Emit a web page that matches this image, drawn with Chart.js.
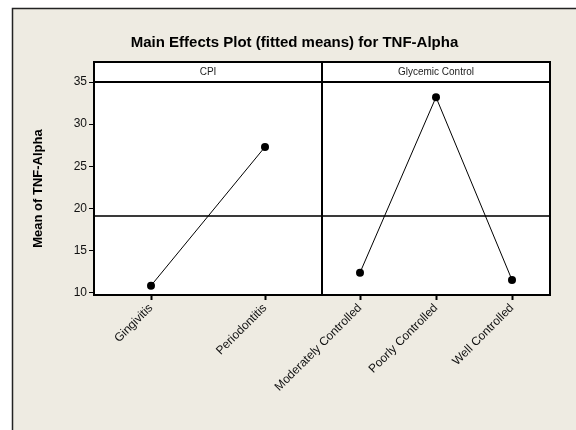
<!DOCTYPE html>
<html><head><meta charset="utf-8">
<script src="https://cdn.jsdelivr.net/npm/chart.js@4/dist/chart.umd.min.js"></script>
<style>html,body{margin:0;padding:0;background:#fff}#wrap{width:576px;height:430px}</style>
</head><body><div id="wrap"><canvas id="c" width="576" height="430"></canvas></div>
<script>
const cpiCategories = ['Gingivitis', 'Periodontitis'];
const cpiMeans = [10.84, 27.3];
const glyCategories = ['Moderately Controlled', 'Poorly Controlled', 'Well Controlled'];
const glyMeans = [12.38, 33.2, 11.51];
const panelLabels = ['CPI', 'Glycemic Control'];
const yTickValues = [10, 15, 20, 25, 30, 35];
const grandMean = 19.14;

const FONT = "'Liberation Sans', Arial, sans-serif";
const BEIGE = '#EEEBE2';

const framePlugin = {
  id: 'frame',
  beforeDraw(chart) {
    const ctx = chart.ctx, ca = chart.chartArea;
    ctx.save();
    ctx.fillStyle = '#fff';
    ctx.fillRect(0, 0, chart.width, chart.height);
    ctx.fillStyle = BEIGE;
    ctx.fillRect(12, 8, chart.width - 12, chart.height - 8);
    ctx.strokeStyle = '#222';
    ctx.lineWidth = 1.5;
    ctx.beginPath();
    ctx.moveTo(12.5, chart.height);
    ctx.lineTo(12.5, 8.5);
    ctx.lineTo(chart.width, 8.5);
    ctx.stroke();
    ctx.fillStyle = '#fff';
    ctx.fillRect(ca.left, ca.top - 20, ca.right - ca.left, ca.bottom - ca.top + 20);
    ctx.restore();
  },
  beforeDatasetsDraw(chart) {
    const ctx = chart.ctx, ca = chart.chartArea;
    const y = Math.round(chart.scales.y.getPixelForValue(grandMean));
    ctx.save();
    ctx.strokeStyle = '#3a3a3a';
    ctx.lineWidth = 2;
    ctx.beginPath();
    ctx.moveTo(ca.left, y);
    ctx.lineTo(ca.right, y);
    ctx.stroke();
    ctx.restore();
  },
  afterDatasetsDraw(chart) {
    const ctx = chart.ctx, ca = chart.chartArea;
    const x1 = chart.scales.x1, x2 = chart.scales.x2;
    ctx.save();
    ctx.strokeStyle = '#000';
    ctx.lineWidth = 2;
    ctx.strokeRect(ca.left, ca.top - 20, ca.right - ca.left, ca.bottom - ca.top + 20);
    ctx.beginPath();
    ctx.moveTo(ca.left, ca.top);
    ctx.lineTo(ca.right, ca.top);
    ctx.moveTo(x2.left, ca.top - 20);
    ctx.lineTo(x2.left, ca.bottom);
    ctx.stroke();
    ctx.fillStyle = '#222';
    ctx.font = '10px ' + FONT;
    ctx.textAlign = 'center';
    ctx.textBaseline = 'middle';
    ctx.fillText(panelLabels[0], (x1.left + x1.right) / 2, ca.top - 10);
    ctx.fillText(panelLabels[1], (x2.left + x2.right) / 2, ca.top - 10);
    ctx.restore();
  }
};

const xScale = (labels) => ({
  type: 'category',
  position: 'bottom',
  stack: 'panels',
  stackWeight: 1,
  offset: true,
  labels: labels,
  afterFit(s) { s.height = 135; },
  border: { display: false },
  grid: { drawOnChartArea: false, drawTicks: true, tickLength: 5, tickWidth: 2, color: '#000' },
  ticks: { maxRotation: 45, minRotation: 45, autoSkip: false, padding: 1, color: '#111', font: { family: FONT, size: 12 } }
});

new Chart(document.getElementById('c'), {
  type: 'line',
  data: {
    datasets: [
      { data: cpiMeans, xAxisID: 'x1', yAxisID: 'y' },
      { data: glyMeans, xAxisID: 'x2', yAxisID: 'y' }
    ]
  },
  options: {
    responsive: false,
    animation: false,
    devicePixelRatio: 1,
    layout: { padding: { left: 39, right: 26, top: 0, bottom: 0 } },
    elements: {
      line: { borderColor: '#000', borderWidth: 1, tension: 0, fill: false },
      point: { radius: 4, backgroundColor: '#000', borderColor: '#000', borderWidth: 0, hoverRadius: 4 }
    },
    plugins: {
      legend: { display: false },
      tooltip: { enabled: false },
      title: {
        display: true,
        text: 'Main Effects Plot (fitted means) for TNF-Alpha',
        color: '#000',
        font: { family: FONT, size: 15, weight: 'bold' },
        padding: { top: 34, bottom: 30 }
      }
    },
    scales: {
      x1: xScale(cpiCategories),
      x2: xScale(glyCategories),
      y: {
        type: 'linear',
        position: 'left',
        min: 9.73,
        max: 35,
        afterFit(s) { s.width = 55; },
        afterBuildTicks(s) { s.ticks = yTickValues.map(v => ({ value: v })); },
        border: { display: false },
        grid: { drawOnChartArea: false, drawTicks: true, tickLength: 5, tickWidth: 1, color: '#000' },
        ticks: { padding: 2, color: '#111', font: { family: FONT, size: 12 } },
        title: {
          display: true,
          text: 'Mean of TNF-Alpha',
          color: '#000',
          font: { family: FONT, size: 13, weight: 'bold' },
          padding: { top: -8, bottom: 0 }
        }
      }
    }
  },
  plugins: [framePlugin]
});
</script>
</body></html>
